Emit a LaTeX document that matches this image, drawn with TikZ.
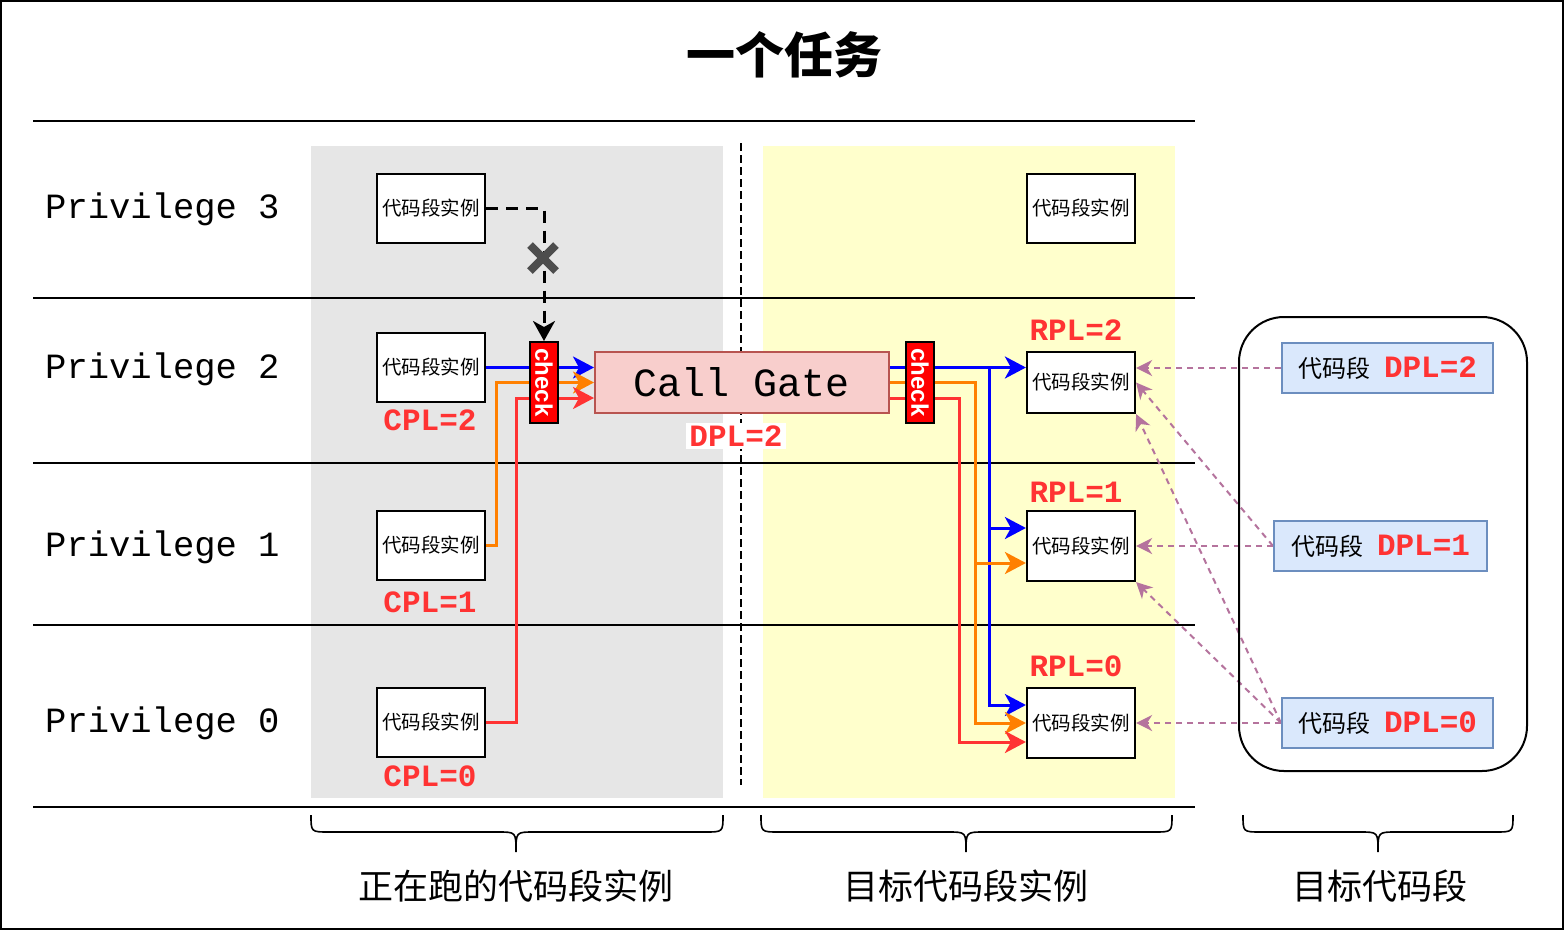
\documentclass[tikz,border=0pt]{standalone}
\usepackage{graphicx}
\usepackage{fontspec}
\setmainfont{Liberation Sans}
\setmonofont{Liberation Mono}
\newfontfamily\cjk{Noto Sans CJK SC}
\usetikzlibrary{arrows.meta,calc}
\definecolor{grayreg}{HTML}{E6E6E6}
\definecolor{yelreg}{HTML}{FFFFCC}
\definecolor{gatefill}{HTML}{F8CECC}
\definecolor{gatedraw}{HTML}{B85450}
\definecolor{segfill}{HTML}{DAE8FC}
\definecolor{segdraw}{HTML}{6C8EBF}
\definecolor{lblred}{HTML}{FF3333}
\definecolor{lineblue}{HTML}{0000FF}
\definecolor{lineorange}{HTML}{FF8000}
\definecolor{linered}{HTML}{FF3333}
\definecolor{purp}{HTML}{B5739D}
\definecolor{xgray}{HTML}{4D4D4D}
\pgfdeclarelayer{back}
\pgfdeclarelayer{mid}
\pgfsetlayers{back,mid,main}
\tikzset{
  codebox/.style={draw, line width=2.2pt, fill=white, inner sep=0pt,
    minimum width=108pt, minimum height=69pt,
    font=\cjk\fontsize{19.5}{22}\selectfont},
  priv/.style={anchor=west, inner sep=0pt, font=\ttfamily\fontsize{35.5}{40}\selectfont},
  lvl/.style={inner sep=0pt, text=lblred, font=\ttfamily\bfseries\fontsize{31}{34}\selectfont},
  chkbox/.style={draw=black, line width=2pt, fill=red, text=white, inner sep=0pt,
    minimum width=28pt, minimum height=81pt,
    font=\rmfamily\bfseries\fontsize{24}{24}\selectfont},
  segbox/.style={draw=segdraw, line width=2pt, fill=segfill, inner sep=0pt,
    minimum width=211pt, minimum height=50pt},
  colA/.style={line width=3pt, -{Stealth[length=21pt,width=22pt,inset=6pt]}},
  purA/.style={purp, line width=2pt, dash pattern=on 6pt off 5pt,
    -{Stealth[length=16pt,width=16pt,inset=5pt]}},
  bottomlbl/.style={font=\cjk\fontsize{35}{40}\selectfont},
  bracestyle/.style={line width=1.6pt}
}
\newcommand{\segtxt}[1]{{\cjk\fontsize{24}{28}\selectfont 代码段}\hspace{14pt}{\ttfamily\bfseries\fontsize{31}{34}\selectfont\color{lblred}DPL=#1}}
\begin{document}
\begin{tikzpicture}[x=1pt,y=-1pt]
\useasboundingbox (0,0) rectangle (1564,930);

\begin{pgfonlayer}{back}
\fill[white] (0,0) rectangle (1564,930);
\fill[grayreg] (311,146) rectangle (723,798);
\fill[yelreg] (763,146) rectangle (1175,798);
\foreach \yy in {121,298,463,625,807} \draw[line width=2pt] (33,\yy) -- (1195,\yy);
\draw[line width=2pt, dash pattern=on 8pt off 4pt] (741,143) -- (741,785);
\end{pgfonlayer}
\draw[line width=2.5pt] (1,1) rectangle (1563,929);

% title
\node[font=\cjk\bfseries\fontsize{49}{55}\selectfont] (title) at (784,55) {一个任务};

% privilege labels
\node[priv] (p3) at (45,209) {Privilege 3};
\node[priv] (p2) at (45,369) {Privilege 2};
\node[priv] (p1) at (45,547) {Privilege 1};
\node[priv] (p0) at (45,723) {Privilege 0};

% left code instances
\node[codebox] (L3) at (431,208.5) {代码段实例};
\node[codebox] (L2) at (431,367.5) {代码段实例};
\node[codebox] (L1) at (431,545.5) {代码段实例};
\node[codebox] (L0) at (431,722.5) {代码段实例};
\node[lvl] (cpl2) at (430,420) {CPL=2};
\node[lvl] (cpl1) at (430,602) {CPL=1};
\node[lvl] (cpl0) at (430,776) {CPL=0};

% right code instances
\node[codebox] (R3) at (1081,208.5) {代码段实例};
\node[codebox, minimum height=61pt] (R2) at (1081,382.5) {代码段实例};
\node[codebox, minimum height=70pt] (R1) at (1081,546) {代码段实例};
\node[codebox, minimum height=70pt] (R0) at (1081,723) {代码段实例};
\node[lvl] (rpl2) at (1076,330) {RPL=2};
\node[lvl] (rpl1) at (1076,492) {RPL=1};
\node[lvl] (rpl0) at (1076,666) {RPL=0};

% call gate
\node[draw=gatedraw, fill=gatefill, line width=2pt, minimum width=294pt, minimum height=61pt,
  inner sep=0pt, font=\ttfamily\fontsize{40}{44}\selectfont] (gate) at (742,382.5) {Call Gate};
\node[lvl, fill=white, inner sep=3pt] (gdpl) at (736,436) {DPL=2};

% checks
\node[chkbox] (chkL) at (544,382.5) {\rotatebox{-90}{check}};
\node[chkbox] (chkR) at (920,382.5) {\rotatebox{-90}{check}};

% target segments
\draw[line width=2pt, rounded corners=45pt] (1239,317) rectangle (1527,771);
\node[segbox] (D2) at (1387.5,368) {\segtxt{2}};
\node[segbox, minimum width=213pt] (D1) at (1380.5,546) {\segtxt{1}};
\node[segbox] (D0) at (1387.5,723) {\segtxt{0}};

\coordinate (bB) at (989,367.5);
\coordinate (oB) at (975,382.5);
\coordinate (rB) at (959,398);

\begin{pgfonlayer}{mid}
% left connectors
\draw[colA, lineblue] (L2.east) -- (L2.east -| gate.west);
\draw[colA, lineorange] (L1.east) -- ++(10,0) |- (gate.west);
\draw[colA, linered] (L0.east) -- ++(30,0) |- ([yshift=-15.5pt]gate.west);
% right connectors
\draw[colA, lineblue] (gate.east |- L2.east) -- (R2.west |- L2.east);
\draw[colA, lineblue] (bB) |- ([yshift=18pt]R1.west);
\draw[colA, lineblue] (bB) |- ([yshift=18pt]R0.west);
\draw[colA, lineorange] (gate.east) -- (oB) |- ([yshift=-17pt]R1.west);
\draw[colA, lineorange] (oB) |- (R0.west);
\draw[colA, linered] ([yshift=-15.5pt]gate.east) -- (rB) |- ([yshift=-19pt]R0.west);
% purple dashed
\draw[purA] (D2.west) -- (D2.west -| R2.east);
\draw[purA] (D1.west) -- (R1.east);
\draw[purA] (D1.west) -- (R2.east);
\draw[purA] (D0.west) -- (R0.east);
\draw[purA] (D0.west) -- (R2.south east);
\draw[purA] (D0.west) -- (R1.south east);
\end{pgfonlayer}

% blocked call from privilege 3
\draw[line width=3pt, dash pattern=on 12pt off 8pt, -{Stealth[length=20pt,width=22pt,inset=6pt]}] (L3.east) -| (chkL.north);
\coordinate (xm) at (543,258);
\draw[xgray, line width=8pt] ($(xm)+(-13,-13)$) -- ($(xm)+(13,13)$);
\draw[xgray, line width=8pt] ($(xm)+(-13,13)$) -- ($(xm)+(13,-13)$);

% braces
\foreach \xa/\xc/\xb in {311/516/723, 761/966/1172, 1243/1378/1513} {
  \draw[bracestyle] (\xa,815) .. controls (\xa,832) .. (\xa+18,832) -- (\xc-18,832)
    .. controls (\xc,832) .. (\xc,852) .. controls (\xc,832) .. (\xc+18,832)
    -- (\xb-18,832) .. controls (\xb,832) .. (\xb,815);
}
\node[bottomlbl] (b1) at (516,886) {正在跑的代码段实例};
\node[bottomlbl] (b2) at (966,886) {目标代码段实例};
\node[bottomlbl] (b3) at (1380,886) {目标代码段};
\end{tikzpicture}
\end{document}
